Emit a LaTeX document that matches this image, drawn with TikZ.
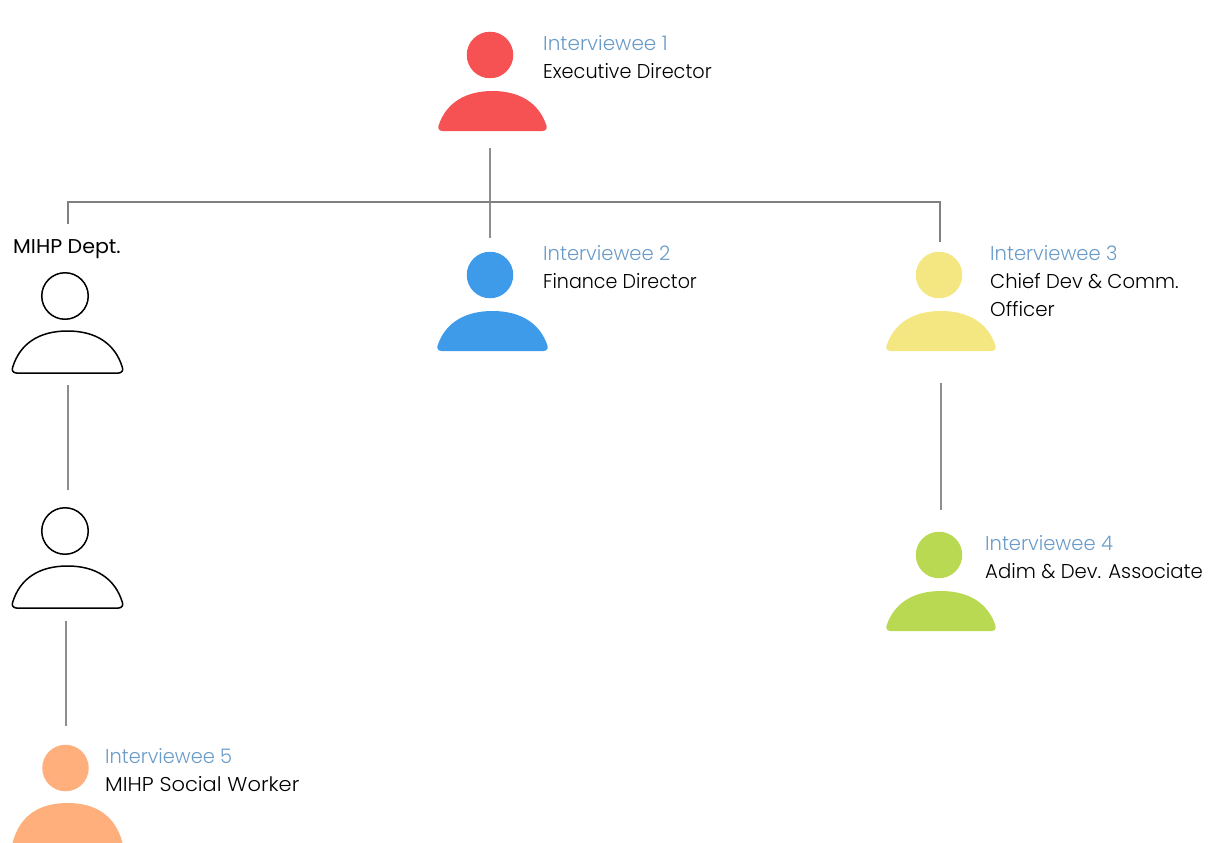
\documentclass[tikz,border=0pt]{standalone}
\usepackage{fontspec}
\setmainfont{Poppins}[UprightFont=* Light]
\newfontfamily\deptfont{Poppins}
\definecolor{lineg}{HTML}{808080}
\definecolor{linel}{HTML}{8E8E8E}
\definecolor{labelblue}{HTML}{6A9BC8}
\definecolor{pred}{HTML}{F65253}
\definecolor{pblue}{HTML}{3E9BE9}
\definecolor{pyellow}{HTML}{F4E681}
\definecolor{pgreen}{HTML}{B9D952}
\definecolor{porange}{HTML}{FFAF7B}
\tikzset{
  x=1pt,y=-1pt,
  conn/.style={draw=lineg,line width=2pt},
  connl/.style={draw=linel,line width=2pt},
  filledp/.style={fill=#1,draw=none},
  outlinep/.style={draw=black,line width=1.5pt,fill=none},
  role/.style={anchor=base west,inner sep=0pt,font=\fontsize{20}{24}\selectfont,xscale=#1},
  idlabel/.style={role=#1,text=labelblue},
}
% \person{name}{head x}{head y}{body left}{body right}{body top}{body bottom}{style}
\newcommand{\person}[8]{%
  \node[circle,minimum size=46.5pt,inner sep=0pt,#8] (#1head) at (#2,#3) {};
  \pgfmathsetmacro{\bm}{(#4+#5)/2}%
  \pgfmathsetmacro{\bhw}{(#5-#4)/2}%
  \path[#8] (#4+4.5,#7) .. controls (#4+1.5,#7) and (#4-0.6,#7-2.5) .. (#4+0.6,#7-5.5)
    .. controls (#4+8,#6+12) and (\bm-\bhw*0.5,#6) .. (\bm,#6)
    .. controls (\bm+\bhw*0.5,#6) and (#5-8,#6+12) .. (#5-0.6,#7-5.5)
    .. controls (#5+0.6,#7-2.5) and (#5-1.5,#7) .. (#5-4.5,#7) -- cycle;
}
\begin{document}
\begin{tikzpicture}
\useasboundingbox (0,0) rectangle (1218,843);
\person{a}{490}{55}{438}{547}{91}{131}{filledp=pred}
\person{b}{490}{275}{437}{548}{311}{351}{filledp=pblue}
\person{c}{939}{275}{886}{996}{311}{351}{filledp=pyellow}
\person{d}{939}{555}{886}{996}{591}{631}{filledp=pgreen}
\person{e}{65.5}{768}{12}{123}{803}{848}{filledp=porange}
\person{f}{65}{296}{12}{123}{331}{373}{outlinep}
\person{g}{65}{531}{12}{123}{566}{608}{outlinep}

\node[idlabel=1.0] (la) at (543,51) {Interviewee 1};
\node[role=0.963] (ra) at (543,78) {Executive Director};
\node[idlabel=0.977] (lb) at (543,260) {Interviewee 2};
\node[role=0.953] (rb) at (543,288) {Finance Director};
\node[idlabel=0.977] (lc) at (990,260) {Interviewee 3};
\node[role=0.978] (rc) at (990,288) {Chief Dev \& Comm.};
\node[role=0.99] (rcb) at (990,316) {Officer};
\node[idlabel=0.976] (ld) at (985,550) {Interviewee 4};
\node[role=0.983] (rd) at (985,578) {Adim \& Dev. Associate};
\node[idlabel=0.969] (le) at (105,763) {Interviewee 5};
\node[role=1.05] (re) at (105,791) {MIHP Social Worker};
\node[role=1.03,font=\deptfont\fontsize{20}{24}\selectfont] (dept) at (13,253) {MIHP Dept.};

\coordinate (c1) at (490,148);
\coordinate (c2) at (490,238);
\coordinate (busL) at (68,202);
\coordinate (busR) at (940,202);
\coordinate (dropL) at (68,224);
\coordinate (dropR) at (940,242);
\coordinate (f1) at (68,385);
\coordinate (f2) at (68,490);
\coordinate (g1) at (66,621);
\coordinate (g2) at (66,726);
\coordinate (d1) at (941,383);
\coordinate (d2) at (941,510);
\draw[connl] (c1) -- (c2);
\draw[conn] (dropL) -- (busL) -- (busR) -- (dropR);
\draw[connl] (f1) -- (f2);
\draw[connl] (g1) -- (g2);
\draw[connl] (d1) -- (d2);
\end{tikzpicture}
\end{document}
